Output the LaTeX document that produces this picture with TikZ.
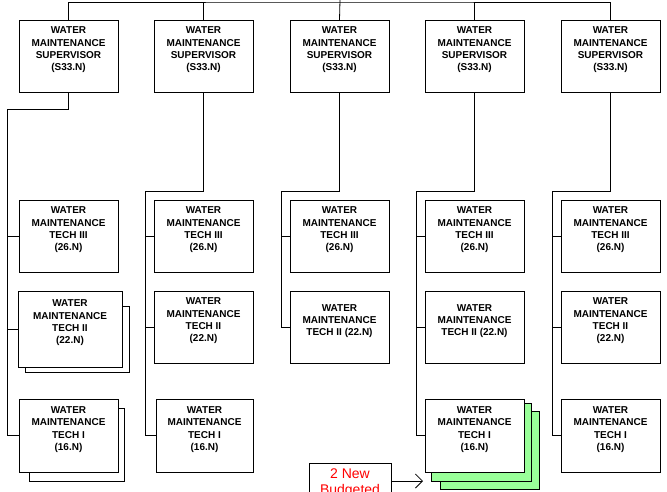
\documentclass[tikz,border=0pt]{standalone}
\usepackage{fontspec}
\setmainfont{Liberation Sans}
\usetikzlibrary{arrows.meta}
\definecolor{shadegreen}{HTML}{99FF99}
\newcommand\orgbox[6]{%
  \node[boxsty, minimum width={(#4-#2)*1pt}, minimum height={(#5-#3)*1pt}] (#1) at ({(#2+#4)/2},{(#3+#5)/2}) {};
  \node[txt] (#1t) at ([yshift=6pt]#1.center) {#6};}
\newcommand\shadebox[6]{%
  \node[boxsty, fill=#6, minimum width={(#4-#2)*1pt}, minimum height={(#5-#3)*1pt}] (#1) at ({(#2+#4)/2},{(#3+#5)/2}) {};}
\begin{document}
\begin{tikzpicture}[x=1pt,y=-1pt,
  boxsty/.style={draw=black, fill=white, line width=1pt, inner sep=0pt, outer sep=0pt},
  txt/.style={font=\fontsize{10}{12.3}\selectfont\bfseries, align=center, inner sep=0pt},
  conn/.style={draw=black, line width=0.8pt},
  redtxt/.style={font=\fontsize{14}{16}\selectfont, text=red, align=center, inner sep=0pt}]
\useasboundingbox (0,0) rectangle (667,491);
\clip (0,0) rectangle (667,491);
% supervisors
\orgbox{sa}{19}{20}{118}{92}{WATER\\MAINTENANCE\\SUPERVISOR\\(S33.N)}
\orgbox{sb}{154}{20}{253}{92}{WATER\\MAINTENANCE\\SUPERVISOR\\(S33.N)}
\orgbox{sc}{290}{20}{389}{92}{WATER\\MAINTENANCE\\SUPERVISOR\\(S33.N)}
\orgbox{sd}{425}{20}{524}{92}{WATER\\MAINTENANCE\\SUPERVISOR\\(S33.N)}
\orgbox{se}{561}{20}{660}{92}{WATER\\MAINTENANCE\\SUPERVISOR\\(S33.N)}
% tech III
\orgbox{ta}{19}{200}{118}{272}{WATER\\MAINTENANCE\\TECH III\\(26.N)}
\orgbox{tb}{154}{200}{253}{272}{WATER\\MAINTENANCE\\TECH III\\(26.N)}
\orgbox{tc}{290}{200}{389}{272}{WATER\\MAINTENANCE\\TECH III\\(26.N)}
\orgbox{td}{425}{200}{524}{272}{WATER\\MAINTENANCE\\TECH III\\(26.N)}
\orgbox{te}{561}{200}{660}{272}{WATER\\MAINTENANCE\\TECH III\\(26.N)}
% tech II
\shadebox{uas}{25}{306}{129}{372}{white}
\orgbox{ua}{18}{291}{122}{367}{WATER\\MAINTENANCE\\TECH II\\(22.N)}
\orgbox{ub}{154}{291}{253}{363}{WATER\\MAINTENANCE\\TECH II\\(22.N)}
\orgbox{uc}{290}{291}{389}{363}{WATER\\MAINTENANCE\\TECH II (22.N)}
\orgbox{ud}{425}{291}{524}{363}{WATER\\MAINTENANCE\\TECH II (22.N)}
\orgbox{ue}{561}{291}{660}{363}{WATER\\MAINTENANCE\\TECH II\\(22.N)}
% tech I
\shadebox{vas}{29}{408}{124}{481}{white}
\orgbox{va}{19}{399}{118}{472}{WATER\\MAINTENANCE\\TECH I\\(16.N)}
\orgbox{vb}{156}{399}{253}{472}{WATER\\MAINTENANCE\\TECH I\\(16.N)}
\shadebox{vds2}{440}{411}{539}{489}{shadegreen}
\shadebox{vds1}{431}{403}{531}{481}{shadegreen}
\orgbox{vd}{425}{399}{524}{472}{WATER\\MAINTENANCE\\TECH I\\(16.N)}
\orgbox{ve}{561}{399}{660}{472}{WATER\\MAINTENANCE\\TECH I\\(16.N)}
% red note
\node[boxsty, minimum width=82pt, minimum height=44pt] (note) at (350,485) {};
\node[redtxt] (notet) at (350,483) {2 New\\Budgeted};
\coordinate (arrend) at (423,481);
\draw[conn, -{Straight Barb[length=7pt,width=14pt]}] (note.east |- arrend) -- (arrend);
% top connectors
\coordinate (topin) at (340,0);
\coordinate (bar) at (340,2);
\draw[conn] (sa.north) |- (bar) -| (se.north);
\draw[conn] (topin) -- (sc.north);
\draw[conn] (sb.north |- bar) -- (sb.north);
\draw[conn] (sd.north |- bar) -- (sd.north);
% column 1
\coordinate (ca) at (7,109);
\draw[conn] (sa.south) |- (ca) -- (ca |- va.west) -- (va.west);
\draw[conn] (ca |- ta.west) -- (ta.west);
\draw[conn] (ca |- ua.west) -- (ua.west);
% column 2
\coordinate (cb) at (145,191);
\draw[conn] (sb.south) |- (cb) -- (cb |- vb.west) -- (vb.west);
\draw[conn] (cb |- tb.west) -- (tb.west);
\draw[conn] (cb |- ub.west) -- (ub.west);
% column 3
\coordinate (cc) at (281,191);
\draw[conn] (sc.south) |- (cc) -- (cc |- uc.west) -- (uc.west);
\draw[conn] (cc |- tc.west) -- (tc.west);
% column 4
\coordinate (cd) at (416,191);
\draw[conn] (sd.south) |- (cd) -- (cd |- vd.west) -- (vd.west);
\draw[conn] (cd |- td.west) -- (td.west);
\draw[conn] (cd |- ud.west) -- (ud.west);
% column 5
\coordinate (ce) at (552,191);
\draw[conn] (se.south) |- (ce) -- (ce |- ve.west) -- (ve.west);
\draw[conn] (ce |- te.west) -- (te.west);
\draw[conn] (ce |- ue.west) -- (ue.west);
\end{tikzpicture}
\end{document}
